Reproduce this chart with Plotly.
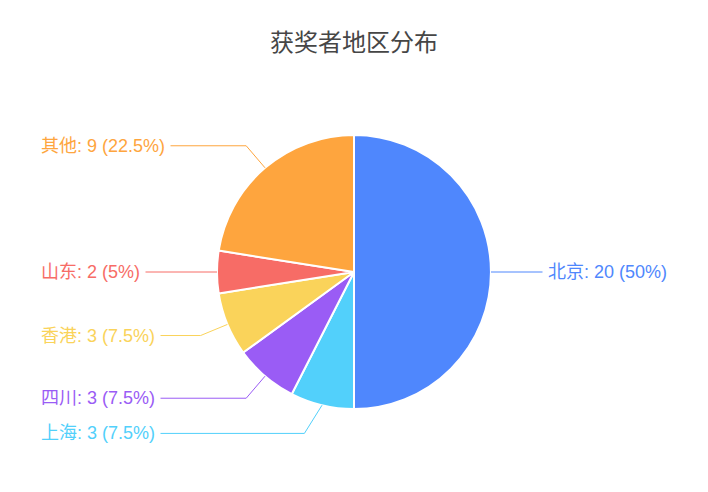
import math
import plotly.graph_objects as go

# data
regions = ['北京', '上海', '四川', '香港', '山东', '其他']
counts = [20, 3, 3, 3, 2, 9]
colors = ['#4f87fd', '#52d0fb', '#9a5cf5', '#fad35a', '#f76c66', '#fea53e']

# page body has an 8px margin, so the figure is a bit smaller than the window
W, H = 692, 476
cx, cy, r = 346, 264, 137      # pie centre / radius in px
seg1 = 29                      # first leader segment length
min_ang = math.radians(32)     # min angle of first segment from vertical
edge = 27

fig = go.Figure(go.Pie(
    labels=regions, values=counts, sort=False, direction='clockwise', rotation=0,
    marker=dict(colors=colors, line=dict(color='white', width=2)),
    textinfo='none', showlegend=False, hoverinfo='label+value+percent',
    domain=dict(x=[(cx - r) / W, (cx + r) / W], y=[1 - (cy + r) / H, 1 - (cy - r) / H]),
))

total = sum(counts)
start = 0
for name, v, c in zip(regions, counts, colors):
    mid = (start + v / 2) / total * 2 * math.pi
    start += v
    sx, sy = math.sin(mid), -math.cos(mid)
    x0, y0 = cx + r * sx, cy + r * sy
    x1, y1 = x0 + seg1 * sx, y0 + seg1 * sy
    # keep the first segment from being too steep
    if abs(x1 - x0) < abs(y1 - y0) * math.tan(min_ang):
        x1 = x0 + math.copysign(abs(y1 - y0) * math.tan(min_ang), sx)
    pct = v / total * 100
    txt = f'{name}: {v} ({pct:g}%)'
    right = sx > 0.01
    fig.add_shape(type='line', xref='paper', yref='paper',
                  x0=x0 / W, y0=1 - y0 / H, x1=x1 / W, y1=1 - y1 / H,
                  line=dict(color=c, width=1))
    tx = (W - edge) if right else edge
    fig.add_annotation(x=x1 / W, y=1 - y1 / H, xref='paper', yref='paper',
                       text=txt, showarrow=True, arrowhead=0, arrowwidth=1, arrowcolor=c,
                       ax=tx - x1, ay=0, xanchor='right' if right else 'left',
                       borderpad=5, font=dict(color=c, size=18))

fig.update_layout(
    width=W, height=H, margin=dict(l=0, r=0, t=0, b=0),
    paper_bgcolor='white', plot_bgcolor='white',
    font=dict(family='Liberation Sans, Noto Sans CJK SC, sans-serif'),
    title=dict(text='获奖者地区分布', x=0.5, xanchor='center', y=1 - 35 / H, yanchor='middle',
               font=dict(size=24, color='#464646')),
)
fig.write_html('out.html')
